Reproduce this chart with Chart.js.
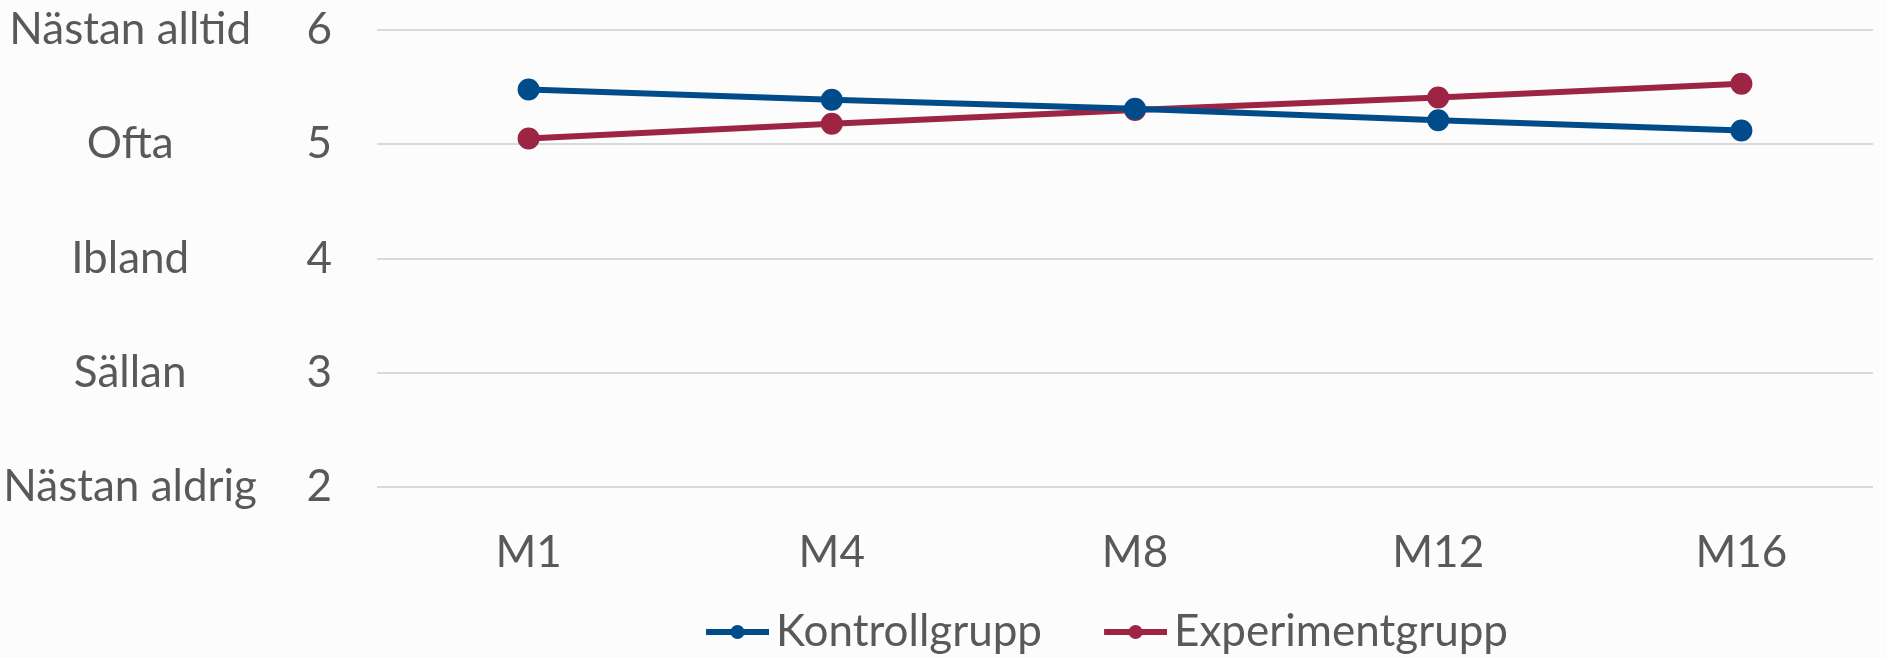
<!DOCTYPE html>
<html>
<head>
<meta charset="utf-8">
<script src="https://cdn.jsdelivr.net/npm/chart.js@4.4.0/dist/chart.umd.min.js"></script>
<style>
  html, body { margin: 0; padding: 0; background: #fcfcfc; overflow: hidden; }
  #wrap { width: 1887px; height: 658px; }
</style>
</head>
<body>
<div id="wrap"><canvas id="chart"></canvas></div>
<script>
const categories = ["M1", "M4", "M8", "M12", "M16"];
const kontrollgrupp = [5.48, 5.39, 5.31, 5.21, 5.12];
const experimentgrupp = [5.05, 5.18, 5.30, 5.41, 5.53];
const scaleLabels = { 2: "Nästan aldrig", 3: "Sällan", 4: "Ibland", 5: "Ofta", 6: "Nästan alltid" };

const BLUE = "#004c8a";
const RED = "#9d2543";
const TEXT = "#595959";
const FONT = "Lato, 'Liberation Sans', sans-serif";
const SIZE = 44;

// legend marker: line with a dot, kept in the right part of the canvas
function legendMark(color) {
  const c = document.createElement("canvas");
  c.width = 136;
  c.height = 20;
  const g = c.getContext("2d");
  g.strokeStyle = color;
  g.lineWidth = 6;
  g.beginPath();
  g.moveTo(73, 10);
  g.lineTo(136, 10);
  g.stroke();
  g.fillStyle = color;
  g.beginPath();
  g.arc(104.5, 10, 7, 0, Math.PI * 2);
  g.fill();
  return c;
}
const marks = [legendMark(BLUE), legendMark(RED)];

// the plot area of the original runs a little past the right edge,
// and its legend sits a bit left of centre
const layoutTweaks = {
  id: "layoutTweaks",
  afterLayout(chart) {
    const x = chart.scales.x;
    x.right = 1893;
    x.width = x.right - x.left;
    x.configure();
    chart.legend.left -= 47;
    chart.legend.right -= 47;
  },
};

const ctx = document.getElementById("chart").getContext("2d");
new Chart(ctx, {
  type: "line",
  data: {
    labels: categories,
    datasets: [
      {
        label: "Kontrollgrupp",
        data: kontrollgrupp,
        borderColor: BLUE,
        backgroundColor: BLUE,
        borderWidth: 6,
        pointRadius: 8,
        pointHoverRadius: 8,
      },
      {
        label: "Experimentgrupp",
        data: experimentgrupp,
        borderColor: RED,
        backgroundColor: RED,
        borderWidth: 6,
        pointRadius: 8,
        pointHoverRadius: 8,
      },
    ],
  },
  plugins: [layoutTweaks],
  options: {
    responsive: true,
    maintainAspectRatio: false,
    animation: false,
    layout: { padding: { top: 30, right: 0, left: 0, bottom: -6 } },
    scales: {
      x: {
        offset: true,
        // invisible tick marks act as the gap above the labels
        grid: { display: false, drawTicks: true, tickLength: 39 },
        border: { display: false },
        ticks: { color: TEXT, font: { family: FONT, size: SIZE }, padding: 0 },
        afterFit: (axis) => { axis.height = 119; },
      },
      y: {
        position: "left",
        weight: 0,
        min: 2,
        max: 6,
        grid: { color: "#d9d9d9", lineWidth: 2, drawTicks: true, tickLength: 45, tickColor: "rgba(0,0,0,0)" },
        border: { display: false },
        ticks: { stepSize: 1, color: TEXT, font: { family: FONT, size: SIZE }, padding: 0 },
        afterFit: (axis) => { axis.width = 100; },
      },
      y2: {
        position: "left",
        weight: 1,
        min: 2,
        max: 6,
        grid: { display: false, drawTicks: true, tickLength: 20 },
        border: { display: false },
        ticks: {
          stepSize: 1,
          color: TEXT,
          font: { family: FONT, size: SIZE },
          padding: 0,
          crossAlign: "center",
          callback: (v) => scaleLabels[v] || "",
        },
        afterFit: (axis) => { axis.width = 277; },
      },
    },
    plugins: {
      tooltip: { enabled: false },
      legend: {
        position: "bottom",
        fullSize: false,
        labels: {
          color: TEXT,
          font: { family: FONT, size: SIZE },
          usePointStyle: true,
          pointStyleWidth: 106,
          padding: 4,
          generateLabels: (chart) =>
            Chart.defaults.plugins.legend.labels.generateLabels(chart).map((l) => ({
              ...l,
              pointStyle: marks[l.datasetIndex],
            })),
        },
      },
    },
  },
});
</script>
</body>
</html>
